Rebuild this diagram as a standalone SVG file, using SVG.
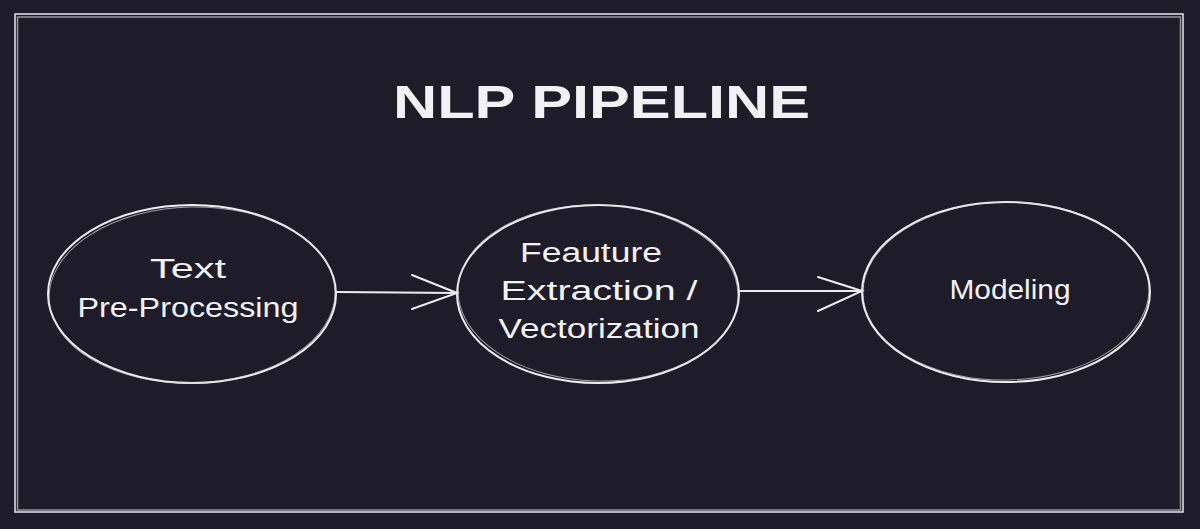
<svg xmlns="http://www.w3.org/2000/svg" width="1200" height="529" viewBox="0 0 1200 529">
<style>
.bg{fill:#1e1c28}
.frame{fill:none;stroke:#e6e6ea;stroke-width:1.5}
.ell{fill:none;stroke:#ececf0;stroke-width:2}
.ell2{fill:none;stroke:#d8d8dc;stroke-width:1;opacity:0.7}
.conn{fill:none;stroke:#ececf0;stroke-width:2;stroke-linecap:round}
.lbl{fill:#f2f2f4;font-family:"Liberation Sans","DejaVu Sans",sans-serif;font-size:27px;text-anchor:middle}
.title{fill:#f2f2f4;font-family:"Liberation Sans","DejaVu Sans",sans-serif;font-size:46px;font-weight:bold}
</style>
<rect class="bg" x="0" y="0" width="1200" height="529"/>
<g id="frame">
<rect class="frame" x="15" y="14" width="1168" height="498"/>
<rect class="frame" x="17.5" y="17" width="1163" height="493" opacity="0.6"/>
</g>
<text class="title" x="393" y="118" textLength="417" lengthAdjust="spacingAndGlyphs">NLP PIPELINE</text>
<g id="connectors">
<path class="conn" d="M336 292 L457 293"/>
<path class="conn" d="M412 275 L457 293 L412 309"/>
<path class="conn" d="M739 291 L862 291"/>
<path class="conn" d="M818 277 L862 291 L818 311"/>
</g>
<g id="node-preprocessing">
<ellipse class="ell" cx="192" cy="294" rx="144" ry="89"/>
<ellipse class="ell2" cx="192" cy="295" rx="143" ry="88" transform="rotate(-1.5 192 294)"/>
<text class="lbl" x="188" y="278" textLength="76" lengthAdjust="spacingAndGlyphs">Text</text>
<text class="lbl" x="188" y="317" textLength="221" lengthAdjust="spacingAndGlyphs">Pre-Processing</text>
</g>
<g id="node-feature">
<ellipse class="ell" cx="598" cy="294" rx="141" ry="89"/>
<ellipse class="ell2" cx="598" cy="293" rx="140" ry="88" transform="rotate(1.5 598 294)"/>
<text class="lbl" x="591" y="262" textLength="142" lengthAdjust="spacingAndGlyphs">Feauture</text>
<text class="lbl" x="599" y="300" textLength="197" lengthAdjust="spacingAndGlyphs">Extraction /</text>
<text class="lbl" x="599" y="338" textLength="201" lengthAdjust="spacingAndGlyphs">Vectorization</text>
</g>
<g id="node-modeling">
<ellipse class="ell" cx="1006" cy="292" rx="144" ry="90"/>
<ellipse class="ell2" cx="1006" cy="291" rx="143" ry="89" transform="rotate(-1 1006 292)"/>
<text class="lbl" x="1010" y="299" textLength="121" lengthAdjust="spacingAndGlyphs">Modeling</text>
</g>
</svg>
